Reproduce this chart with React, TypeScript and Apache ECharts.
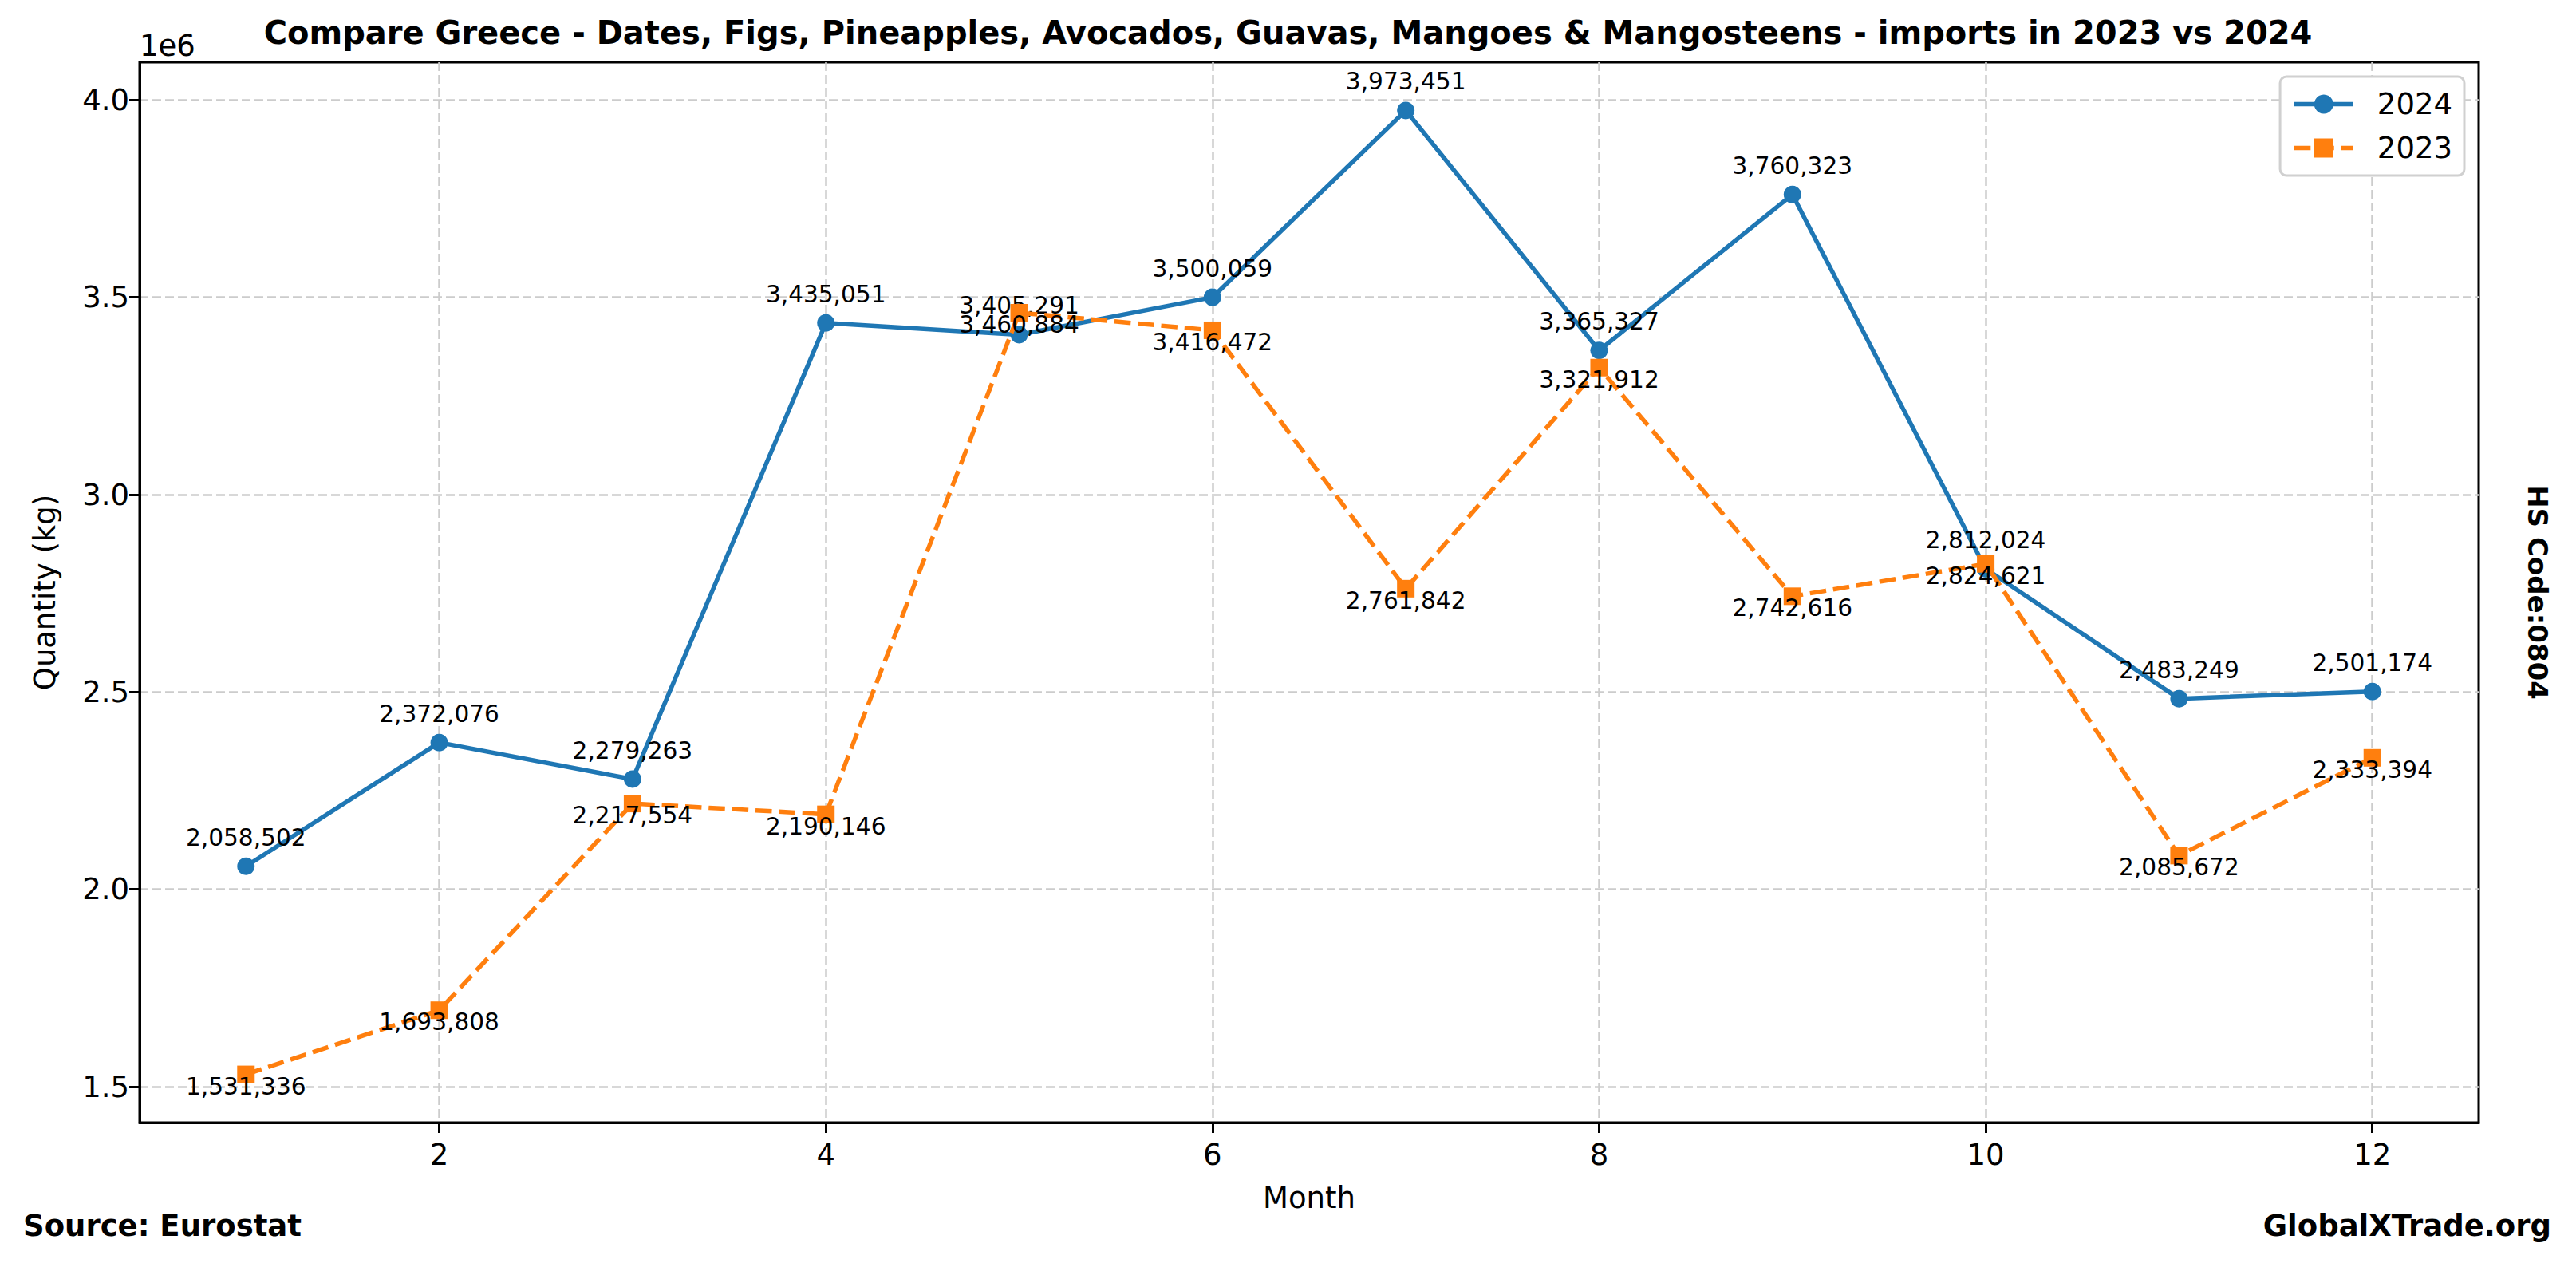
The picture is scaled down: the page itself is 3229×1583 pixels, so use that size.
import React, { useEffect, useRef } from "react";
import * as echarts from "echarts";

const months = [1, 2, 3, 4, 5, 6, 7, 8, 9, 10, 11, 12];
const imports2024 = [2058502, 2372076, 2279263, 3435051, 3405291, 3500059, 3973451, 3365327, 3760323, 2812024, 2483249, 2501174];
const imports2023 = [1531336, 1693808, 2217554, 2190146, 3460884, 3416472, 2761842, 3321912, 2742616, 2824621, 2085672, 2333394];
const xTicks = [2, 4, 6, 8, 10, 12];
const yTicks = [1500000, 2000000, 2500000, 3000000, 3500000, 4000000];
const seriesNames = ["2024", "2023"];

const W = 3229;
const H = 1583;
const FONT = "DejaVu Sans";
const DASH2023 = [20.5, 8.9];

export default function App() {
  const ref = useRef<HTMLDivElement>(null);
  useEffect(() => {
    if (!ref.current) return;
    const chart = echarts.init(ref.current, null, { renderer: "svg", width: W, height: H });
    const all = [...imports2024, ...imports2023];
    const lo = Math.min(...all);
    const hi = Math.max(...all);
    const pad = (hi - lo) * 0.05;
    const xPad = (months[months.length - 1] - months[0]) * 0.05;

    const gridL = 175, gridT = 78, gridR = 3107, gridB = 1407;
    const fmt = (v: number) => v.toLocaleString("en-US");

    chart.setOption({
      animation: false,
      backgroundColor: "#ffffff",
      textStyle: { fontFamily: FONT },
      grid: {
        left: gridL,
        top: gridT,
        width: gridR - gridL,
        height: gridB - gridT,
        show: true,
        borderColor: "#000",
        borderWidth: 3,
        containLabel: false,
      },
      legend: {
        orient: "vertical",
        right: W - 3089,
        top: 96,
        padding: [16, 15, 16, 15],
        itemWidth: 74,
        itemHeight: 30,
        itemGap: 18,
        backgroundColor: "#ffffff",
        borderColor: "#d0d0d0",
        borderWidth: 3,
        borderRadius: 8,
        data: [
          { name: seriesNames[0], lineStyle: { width: 5.5, type: "solid", color: "#1f77b4" } },
          { name: seriesNames[1], lineStyle: { width: 5.5, type: DASH2023, color: "#ff7f0e" } },
        ],
        textStyle: { fontFamily: FONT, fontSize: 37, color: "#000", lineHeight: 37, padding: [0, 0, 0, 25] },
      },
      xAxis: {
        type: "value",
        min: months[0] - xPad,
        max: months[months.length - 1] + xPad,
        axisLine: { show: true, lineStyle: { color: "#000", width: 3 } },
        axisTick: { show: true, customValues: xTicks, length: 13, lineStyle: { color: "#000", width: 3 } },
        axisLabel: { customValues: xTicks, fontFamily: FONT, fontSize: 37, color: "#000", margin: 22 },
        splitLine: { show: true, lineStyle: { color: "#cccccc", width: 2.5, type: [11, 5] } },
      },
      yAxis: {
        type: "value",
        min: lo - pad,
        max: hi + pad,
        axisLine: { show: true, lineStyle: { color: "#000", width: 3 } },
        axisTick: { show: true, customValues: yTicks, length: 13, lineStyle: { color: "#000", width: 3 } },
        axisLabel: {
          customValues: yTicks,
          fontFamily: FONT,
          fontSize: 37,
          color: "#000",
          margin: 13,
          formatter: (v: number) => (v / 1e6).toFixed(1),
        },
        splitLine: { show: true, lineStyle: { color: "#cccccc", width: 2.5, type: [11, 5] } },
      },
      series: [
        {
          name: seriesNames[0],
          type: "line",
          data: months.map((m, i) => [m, imports2024[i]]),
          symbol: "circle",
          symbolSize: 22,
          color: "#1f77b4",
          lineStyle: { color: "#1f77b4", width: 5.5, type: "solid" },
          itemStyle: { color: "#1f77b4" },
          label: {
            show: true,
            position: "inside",
            offset: [0, -36],
            fontFamily: FONT,
            fontSize: 29.6,
            color: "#000",
            formatter: (p: any) => fmt(p.value[1]),
          },
          z: 2,
        },
        {
          name: seriesNames[1],
          type: "line",
          data: months.map((m, i) => [m, imports2023[i]]),
          symbol: "rect",
          symbolSize: 22,
          color: "#ff7f0e",
          lineStyle: { color: "#ff7f0e", width: 5.5, type: DASH2023 },
          itemStyle: { color: "#ff7f0e" },
          label: {
            show: true,
            position: "inside",
            offset: [0, 15],
            fontFamily: FONT,
            fontSize: 29.6,
            color: "#000",
            formatter: (p: any) => fmt(p.value[1]),
          },
          z: 3,
        },
      ],
      graphic: [
        {
          type: "text",
          x: W / 2,
          y: 41,
          style: {
            text: "Compare Greece - Dates, Figs, Pineapples, Avocados, Guavas, Mangoes & Mangosteens - imports in 2023 vs 2024",
            font: `bold 40px "${FONT}"`,
            fill: "#000",
            textAlign: "center",
            textVerticalAlign: "middle",
          },
        },
        {
          type: "text",
          x: gridL,
          y: 57,
          style: { text: "1e6", font: `37px "${FONT}"`, fill: "#000", textAlign: "left", textVerticalAlign: "middle" },
        },
        {
          type: "text",
          x: (gridL + gridR) / 2,
          y: 1501,
          style: { text: "Month", font: `37px "${FONT}"`, fill: "#000", textAlign: "center", textVerticalAlign: "middle" },
        },
        {
          type: "text",
          x: 56,
          y: (gridT + gridB) / 2,
          rotation: Math.PI / 2,
          style: { text: "Quantity (kg)", font: `37px "${FONT}"`, fill: "#000", textAlign: "center", textVerticalAlign: "middle" },
        },
        {
          type: "text",
          x: 3181,
          y: (gridT + gridB) / 2,
          rotation: -Math.PI / 2,
          style: { text: "HS Code:0804", font: `bold 34px "${FONT}"`, fill: "#000", textAlign: "center", textVerticalAlign: "middle" },
        },
        {
          type: "text",
          x: 29,
          y: 1536,
          style: { text: "Source: Eurostat", font: `bold 37px "${FONT}"`, fill: "#000", textAlign: "left", textVerticalAlign: "middle" },
        },
        {
          type: "text",
          x: 3198,
          y: 1536,
          style: { text: "GlobalXTrade.org", font: `bold 37px "${FONT}"`, fill: "#000", textAlign: "right", textVerticalAlign: "middle" },
        },
      ],
    });
    return () => chart.dispose();
  }, []);
  return <div ref={ref} style={{ position: "fixed", left: 0, top: 0, width: W, height: H }} />;
}
